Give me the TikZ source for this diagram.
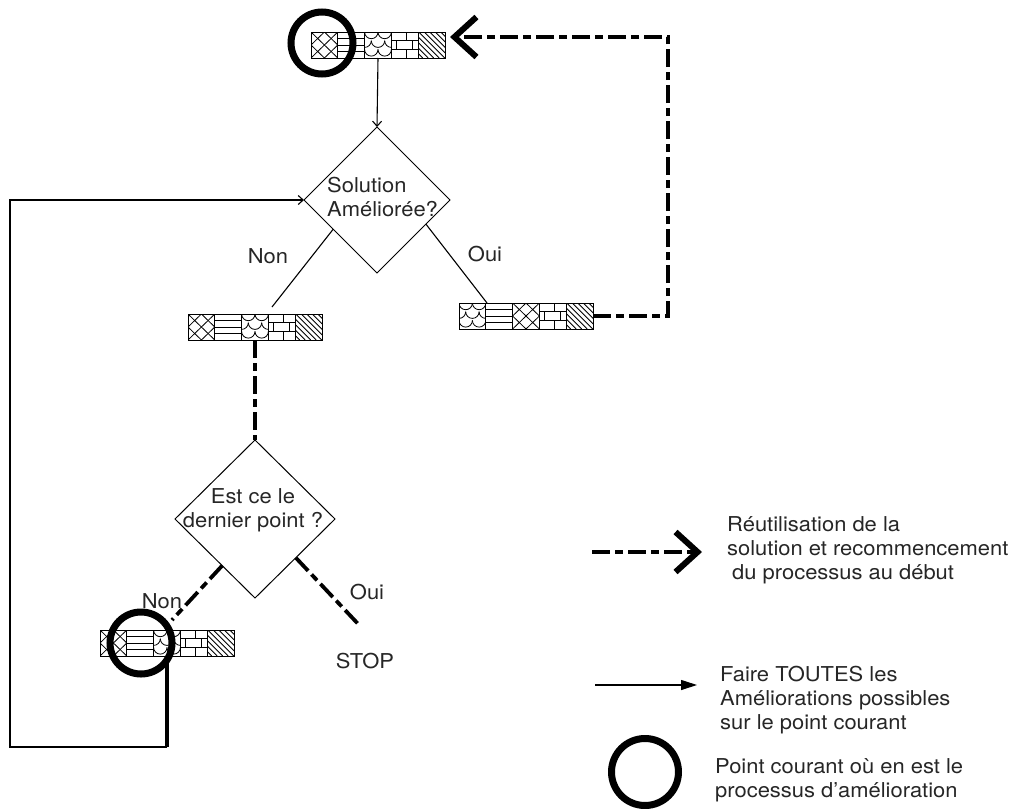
\documentclass[tikz,border=0pt]{standalone}
\usepackage{fontspec}
\setmainfont{TeX Gyre Heros}[FakeStretch=1.07]
\usepackage{tikz}
\usetikzlibrary{calc}
\usetikzlibrary{arrows.meta}
\usetikzlibrary{shapes.geometric}

\newcommand{\cellw}{26.8}
\newcommand{\cellh}{26}
% motifs des cases
\newcommand{\motcroix}{%
	\draw (0,0) -- (\cellw,\cellh) (\cellw,0) -- (0,\cellh);
	\draw (\cellw/2,0) -- (\cellw,\cellh/2) -- (\cellw/2,\cellh) -- (0,\cellh/2) -- cycle;}
\newcommand{\motlignes}{%
	\foreach \y in {6.5,13,19.5} \draw (0,\y) -- (\cellw,\y);}
\newcommand{\motecaille}{%
	\foreach \y/\d in {0/0,8.7/-6.7,17.4/0}
		\foreach \c in {0,13.4,26.8}
			\draw (\d+\c,\y) arc[start angle=180,end angle=0,radius=6.7];}
\newcommand{\motbriques}{%
	\draw (0,8.7) -- (\cellw,8.7) (0,17.4) -- (\cellw,17.4);
	\draw (15,0) -- (15,8.7) (5,8.7) -- (5,17.4) (21,8.7) -- (21,17.4) (15,17.4) -- (15,\cellh);}
\newcommand{\motdiag}{%
	\foreach \a in {-27,-21.5,...,27} \draw (\a,0) -- (\a+\cellh,\cellh);}
% une bande de cinq cases
\newcommand{\bande}[2]{%
	\foreach \m [count=\i from 0] in {#2} {
		\begin{scope}[shift={($(#1.north west)+(\i*\cellw,0)$)},motif]
			\clip (0,0) rectangle (\cellw,\cellh);
			\m
		\end{scope}
		\draw[line width=1pt] ($(#1.north west)+(\i*\cellw,0)$) rectangle +(\cellw,\cellh);
	}}

\tikzset{
	chevron/.tip={Straight Barb[length=22pt,width=40pt,line width=6pt,sharp]},
	motif/.style={line width=0.8pt},
	bandebox/.style={rectangle, draw, line width=1pt, minimum width=134, minimum height=26, inner sep=0, outer sep=0},
	losange/.style={diamond, draw, line width=1pt, inner sep=0, outer sep=0},
	cercle/.style={circle, draw, line width=7pt, minimum size=62, inner sep=0, outer sep=0},
	trait/.style={line width=1.1pt},
	fleche/.style={trait, -{Straight Barb[length=5pt,width=9pt]}},
	pointille/.style={line width=3.8pt, dash pattern=on 18pt off 5pt on 8pt off 5pt},
	texte/.style={font=\fontsize{20.5}{24}\selectfont, text=black!85, inner sep=0}
}

\begin{document}
\begin{tikzpicture}[x=1pt,y=-1pt]
	\useasboundingbox (0,0) rectangle (1018,809);

	% bandes
	\node[bandebox] (bhaut) at (378,45) {};
	\node[bandebox] (bnon) at (255,327) {};
	\node[bandebox] (boui) at (526,316) {};
	\node[bandebox] (bcour) at (167,643) {};
	\bande{bhaut}{\motcroix,\motlignes,\motecaille,\motbriques,\motdiag}
	\bande{bnon}{\motcroix,\motlignes,\motecaille,\motbriques,\motdiag}
	\bande{boui}{\motecaille,\motlignes,\motcroix,\motbriques,\motdiag}
	\bande{bcour}{\motcroix,\motlignes,\motecaille,\motbriques,\motdiag}

	% tests
	\node[losange, minimum width=146, minimum height=146] (amel) at (377,200) {};
	\node[texte, anchor=west, align=left] at (327,197) {Solution\\Améliorée?};
	\node[losange, minimum width=160, minimum height=158] (dernier) at (255,519) {};
	\node[texte, align=center] at (253,510) {Est ce le\\dernier point ?};

	\node[texte] (non1) at (268,256) {Non};
	\node[texte] (oui1) at (485,254) {Oui};
	\node[texte] (non2) at (162,601) {Non};
	\node[texte] (oui2) at (367,592) {Oui};
	\node[texte] (stop) at (365,661) {STOP};

	% liaisons
	\draw[fleche] (bhaut.south) -- (amel.north);
	\draw[trait] ($(amel.west)!0.4!(amel.south)$) -- ($(bnon.north)+(17,-7)$);
	\draw[trait] ($(amel.east)!0.33!(amel.south)$) -- ($(boui.north west)+(28,0)$);
	\draw[pointille,-chevron] (boui.east) -| ($(bhaut.east)+(223,-8)$) -- ($(bhaut.east)+(5,-8)$);
	\draw[pointille] (bnon.south) -- (dernier.north);
	\draw[pointille] ($(dernier.west)!0.59!(dernier.south)$) -- ($(bcour.north)+(5,-10)$);
	\draw[pointille] ($(dernier.east)!0.49!(dernier.south)$) -- ($(stop.north)+(-5,-27)$);

	\coordinate (coin) at (167,747);
	\draw[line width=3.5pt] (bcour.south) -- (coin);
	\draw[fleche] (coin) -| ($(amel.west)+(-294,0)$) -- (amel.west);

	% point courant
	\node[cercle] (chaut) at (322,43) {};
	\node[cercle] (ccour) at (141,643) {};

	% legende
	\coordinate (l1a) at (592,552);
	\coordinate (l1b) at (702,552);
	\draw[pointille,-chevron] (l1a) -- (l1b);
	\node[texte, anchor=west, align=left] at (727,550) {Réutilisation de la\\solution et recommencement\\\hspace*{5pt}du processus au début};

	\coordinate (l2a) at (595,685);
	\coordinate (l2b) at (697,685);
	\draw[trait,-{Triangle[length=16pt,width=10pt]}] (l2a) -- (l2b);
	\node[texte, anchor=west, align=left] at (720,700) {Faire TOUTES les\\Améliorations possibles\\sur le point courant};

	\node[cercle, minimum size=67] (cleg) at (645,772) {};
	\node[texte, anchor=west, align=left] at (715,780) {Point courant où en est le\\processus d'amélioration};
\end{tikzpicture}
\end{document}
